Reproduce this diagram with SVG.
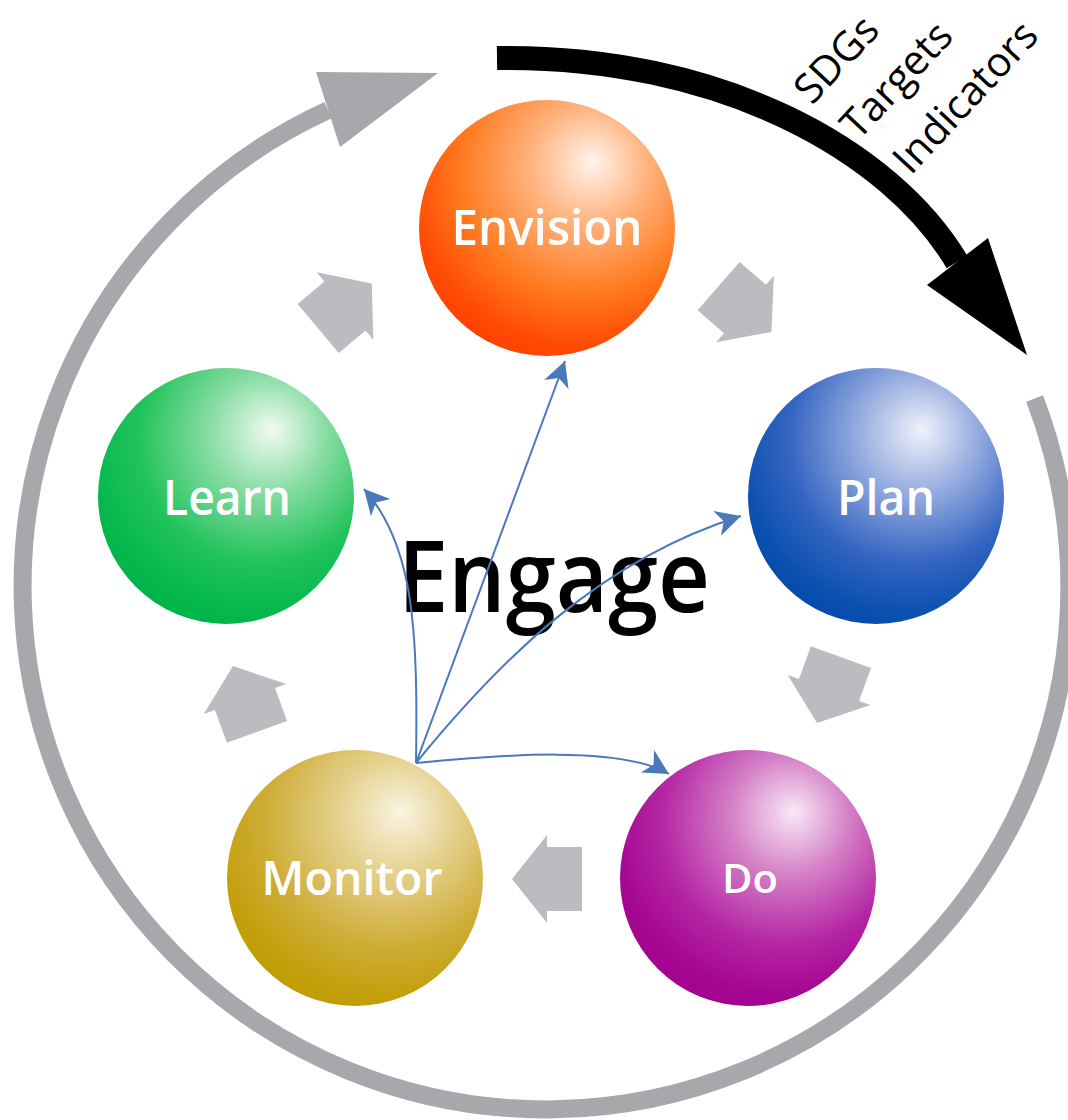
<svg xmlns="http://www.w3.org/2000/svg" width="1068" height="1120" viewBox="0 0 1068 1120">
<style>
.lbl{font-family:"Open Sans","Noto Sans","DejaVu Sans",sans-serif;font-weight:600;fill:#ffffff;text-anchor:middle}
.side{font-family:"Open Sans","Noto Sans","DejaVu Sans",sans-serif;font-weight:400;fill:#000000;font-size:41px}
.conn{fill:none;stroke:#4a79bb;stroke-width:2}
.garr{fill:#bbbcc0}
</style>
<defs>
<radialGradient id="gEnv" cx="0.62" cy="0.3" r="0.78" fx="0.68" fy="0.24">
<stop offset="0" stop-color="#fff4ec"/><stop offset="0.3" stop-color="#ffb17c"/><stop offset="0.62" stop-color="#ff7a1e"/><stop offset="0.85" stop-color="#ff4c05"/><stop offset="1" stop-color="#ff3a00"/>
</radialGradient>
<radialGradient id="gPlan" cx="0.62" cy="0.3" r="0.78" fx="0.68" fy="0.24">
<stop offset="0" stop-color="#f0f2fb"/><stop offset="0.3" stop-color="#95acdf"/><stop offset="0.62" stop-color="#3565c2"/><stop offset="0.85" stop-color="#0c51b0"/><stop offset="1" stop-color="#0048a8"/>
</radialGradient>
<radialGradient id="gLearn" cx="0.62" cy="0.3" r="0.78" fx="0.68" fy="0.24">
<stop offset="0" stop-color="#f2fbf3"/><stop offset="0.3" stop-color="#86dca2"/><stop offset="0.62" stop-color="#22c35c"/><stop offset="0.85" stop-color="#05b84c"/><stop offset="1" stop-color="#00b048"/>
</radialGradient>
<radialGradient id="gMon" cx="0.62" cy="0.3" r="0.78" fx="0.68" fy="0.24">
<stop offset="0" stop-color="#faf4e2"/><stop offset="0.3" stop-color="#e4d08c"/><stop offset="0.62" stop-color="#cfae3a"/><stop offset="0.85" stop-color="#c3a00c"/><stop offset="1" stop-color="#bf9a00"/>
</radialGradient>
<radialGradient id="gDo" cx="0.62" cy="0.3" r="0.78" fx="0.68" fy="0.24">
<stop offset="0" stop-color="#f9e9f6"/><stop offset="0.3" stop-color="#d47fc6"/><stop offset="0.62" stop-color="#b425a4"/><stop offset="0.85" stop-color="#a50692"/><stop offset="1" stop-color="#a0008c"/>
</radialGradient>
<path id="ga" d="M35,0 L0,-44 L0,-32 L-35,-32 L-35,32 L0,32 L0,44 Z"/>
<marker id="bh" markerUnits="userSpaceOnUse" markerWidth="30" markerHeight="30" viewBox="-26 -14 30 28" refX="0" refY="0" orient="auto">
<path d="M0,0 L-25,-13 L-18,0 L-25,13 Z" fill="#4a79bb"/>
</marker>
</defs>
<rect width="1068" height="1120" fill="#ffffff"/>

<g id="cycle">
<path d="M1034.6,398.4 A523.4,523.4 0 1 1 328.1,110.1" fill="none" stroke="#a7a8ab" stroke-width="18"/>
<polygon points="316,72 438,73 340,147" fill="#a7a8ab"/>
<g class="garr">
<use href="#ga" transform="translate(345,306) rotate(-40)"/>
<use href="#ga" transform="translate(745,309) rotate(41)"/>
<use href="#ga" transform="translate(829,690) rotate(110)"/>
<use href="#ga" transform="translate(547,879) rotate(180)"/>
<use href="#ga" transform="translate(245,699) rotate(-110)"/>
</g>
</g>

<g id="sdg-arrow">
<path d="M497,58 C720,55 890,150 957,262" fill="none" stroke="#000000" stroke-width="24"/>
<polygon points="927,285 988,238 1027,355" fill="#000000"/>
</g>

<g id="sdg-text" transform="translate(812,106) rotate(-47)">
<text class="side" x="0" y="0">SDGs</text>
<text class="side" x="6" y="58">Targets</text>
<text class="side" x="16" y="120">Indicators</text>
</g>

<g id="node-envision">
<circle cx="547" cy="228" r="128" fill="url(#gEnv)"/>
<text class="lbl" x="547" y="245" font-size="49" textLength="191" lengthAdjust="spacingAndGlyphs">Envision</text>
</g>
<g id="node-plan">
<circle cx="876" cy="496" r="128" fill="url(#gPlan)"/>
<text class="lbl" x="886" y="515" font-size="49" textLength="98" lengthAdjust="spacingAndGlyphs">Plan</text>
</g>
<g id="node-learn">
<circle cx="226" cy="496" r="128" fill="url(#gLearn)"/>
<text class="lbl" x="227" y="515" font-size="49" textLength="128" lengthAdjust="spacingAndGlyphs">Learn</text>
</g>
<g id="node-monitor">
<circle cx="355" cy="878" r="128" fill="url(#gMon)"/>
<text class="lbl" x="352" y="895" font-size="47" textLength="181" lengthAdjust="spacingAndGlyphs">Monitor</text>
</g>
<g id="node-do">
<circle cx="748" cy="878" r="128" fill="url(#gDo)"/>
<text class="lbl" x="750" y="893" font-size="40" textLength="56" lengthAdjust="spacingAndGlyphs">Do</text>
</g>

<g id="node-engage">
<text x="554" y="612" font-family="'Open Sans','Noto Sans','DejaVu Sans',sans-serif" font-weight="600" font-size="100" text-anchor="middle" fill="#000000" textLength="312" lengthAdjust="spacingAndGlyphs">Engage</text>
</g>

<g id="connectors">
<path class="conn" d="M416,763 L565,361" marker-end="url(#bh)"/>
<path class="conn" d="M416,763 C418,630 414,545 364,489" marker-end="url(#bh)"/>
<path class="conn" d="M416,763 C500,660 600,560 741,516" marker-end="url(#bh)"/>
<path class="conn" d="M416,763 C500,755 620,745 669,774" marker-end="url(#bh)"/>
</g>
</svg>
